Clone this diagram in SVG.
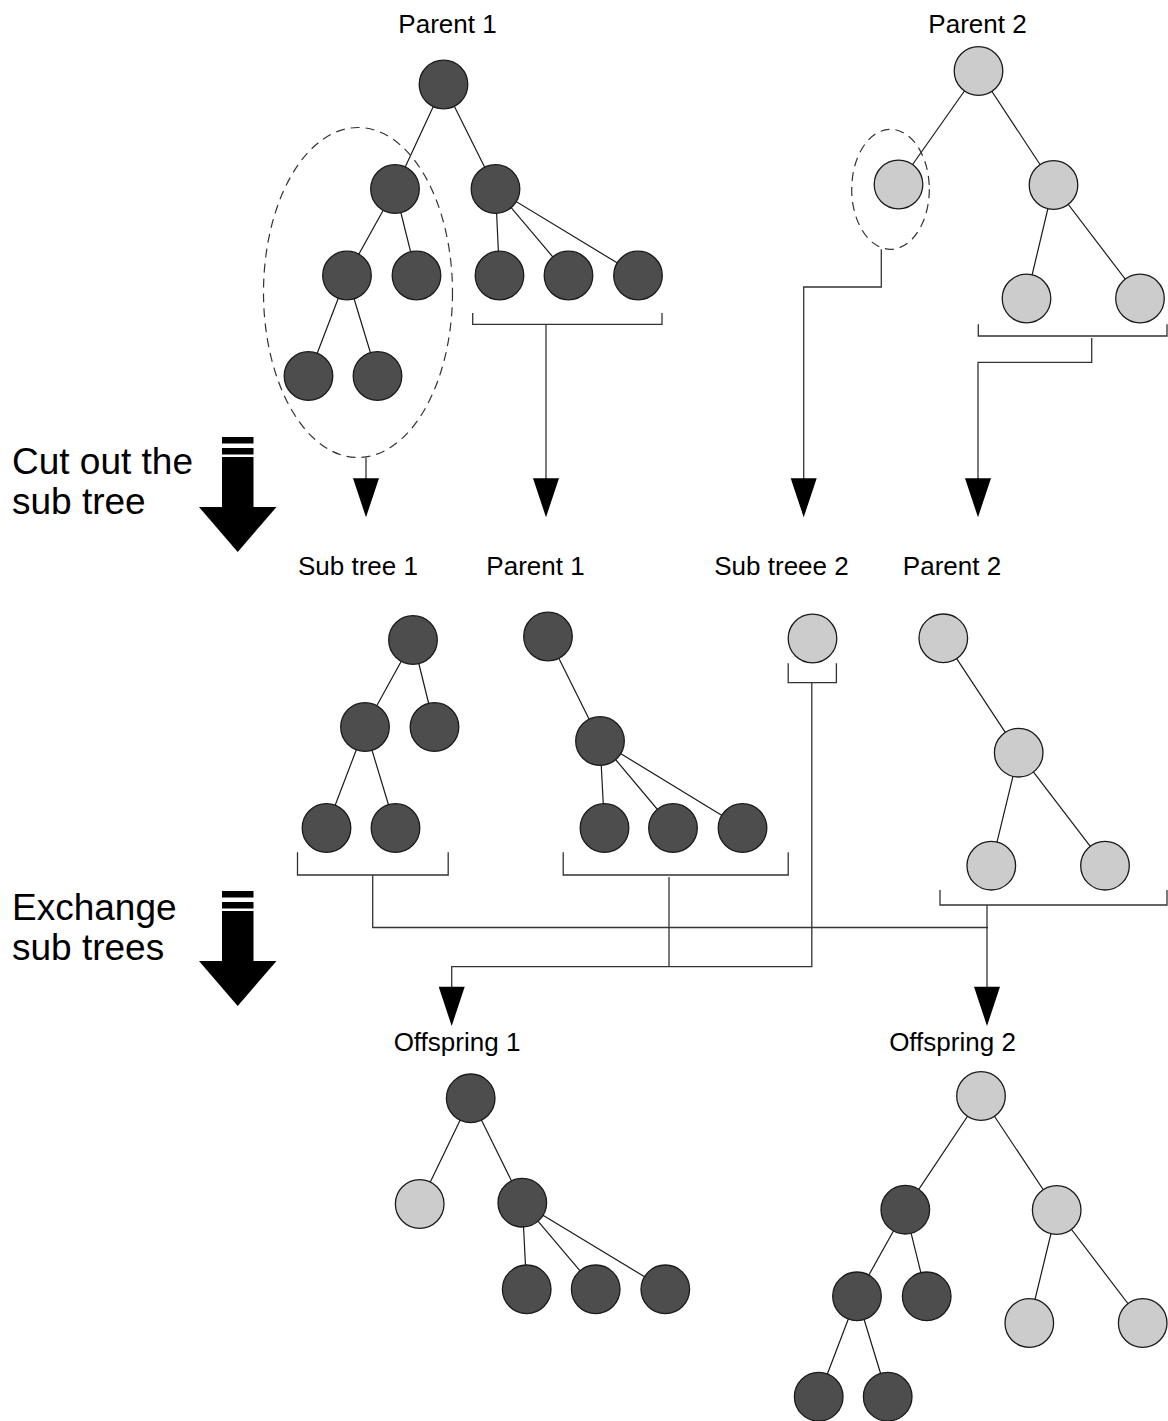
<svg xmlns="http://www.w3.org/2000/svg" width="1168" height="1421" viewBox="0 0 1168 1421">
<style>
.dk{fill:#4d4d4d;stroke:#1a1a1a;stroke-width:1.3}
.lt{fill:#cccccc;stroke:#1a1a1a;stroke-width:1.3}
.e{stroke:#1a1a1a;stroke-width:1.2;fill:none}
.c{stroke:#333;stroke-width:1.3;fill:none}
.ds{stroke:#333;stroke-width:1.2;fill:none;stroke-dasharray:9 6}
.hd{fill:#000}
.lbl{font-family:"Liberation Sans",Arial,sans-serif;font-size:26px;fill:#000;text-anchor:middle}
.big{font-family:"Liberation Sans",Arial,sans-serif;font-size:37px;fill:#000}
</style>
<rect width="1168" height="1421" fill="#fff"/>

<g id="labels">
<text class="lbl" x="447.5" y="33">Parent 1</text>
<text class="lbl" x="977.5" y="33">Parent 2</text>
<text class="lbl" x="358" y="575">Sub tree 1</text>
<text class="lbl" x="535.5" y="575">Parent 1</text>
<text class="lbl" x="781.5" y="575">Sub treee 2</text>
<text class="lbl" x="952" y="575">Parent 2</text>
<text class="lbl" x="457" y="1051">Offspring 1</text>
<text class="lbl" x="952.5" y="1051">Offspring 2</text>
</g>

<g id="step1">
<text class="big" x="12" y="474">Cut out the</text>
<text class="big" x="12" y="514">sub tree</text>
<rect x="222" y="437" width="31.5" height="6.5" fill="#000"/>
<rect x="222" y="448" width="31.5" height="6.5" fill="#000"/>
<rect x="222" y="457" width="31.5" height="51" fill="#000"/>
<polygon points="199,507 276.5,507 237.7,552" fill="#000"/>
</g>
<g id="step2">
<text class="big" x="12" y="920">Exchange</text>
<text class="big" x="12" y="960">sub trees</text>
<rect x="222" y="891" width="31.5" height="6.5" fill="#000"/>
<rect x="222" y="902" width="31.5" height="6.5" fill="#000"/>
<rect x="222" y="911" width="31.5" height="51" fill="#000"/>
<polygon points="199,961 276.5,961 237.7,1006" fill="#000"/>
</g>

<g id="connectors">
<g class="e">
<path d="M443.5,84.5L395,189M443.5,84.5L495.5,189M395,189L347,275.5M395,189L416.5,275.5M347,275.5L308.5,376M347,275.5L377.5,376M495.5,189L499.5,275.5M495.5,189L568.5,275.5M495.5,189L638,275.5"/>
<path d="M978.5,71L898.5,184.5M978.5,71L1053.5,185M1053.5,185L1026.5,298.5M1053.5,185L1140,298.5"/>
<path d="M413,640L365,727M413,640L434.5,727M365,727L326.5,828M365,727L395.5,828"/>
<path d="M548,636.5L600,741M600,741L604.5,828M600,741L673,828M600,741L742.5,828"/>
<path d="M943.3,638.3L1018.7,752.7M1018.7,752.7L991.3,865.7M1018.7,752.7L1105,865.7"/>
<path d="M470.7,1098.3L419.7,1204M470.7,1098.3L522.3,1202.7M522.3,1202.7L526.7,1289.3M522.3,1202.7L595.7,1289.3M522.3,1202.7L665.3,1289.3"/>
<path d="M981,1096L905.3,1209.7M981,1096L1056.7,1210M905.3,1209.7L857,1296.3M905.3,1209.7L926.7,1296.3M857,1296.3L818.7,1396.7M857,1296.3L887.7,1396.7M1056.7,1210L1029.3,1323M1056.7,1210L1142.7,1323"/>
</g>
<ellipse class="ds" cx="358" cy="292.5" rx="94.5" ry="165"/>
<ellipse class="ds" cx="890.5" cy="189.3" rx="38.8" ry="60"/>
<path class="c" d="M472.7,313V324.3H662V313"/>
<path class="c" d="M978.3,324.3V336H1167V324.3"/>
<path class="c" d="M297.5,852.3V875H448.2V852.3"/>
<path class="c" d="M563.2,852.3V875H788.2V852.3"/>
<path class="c" d="M788.2,663.3V682.7H836.4V663.3"/>
<path class="c" d="M940,890V905H1167V890"/>
<path class="c" d="M366,457.5V480"/>
<path class="c" d="M546,324.3V480"/>
<path class="c" d="M881.3,249.3V287H803.7V480"/>
<path class="c" d="M1091.7,338V362.3H978V480"/>
<polygon class="hd" points="353,478.3 379,478.3 366,517.3"/>
<polygon class="hd" points="533,478.3 559,478.3 546,517.3"/>
<polygon class="hd" points="790.7,478.3 816.7,478.3 803.7,517.3"/>
<polygon class="hd" points="965,478.3 991,478.3 978,517.3"/>
<path class="c" d="M372.7,875V927.5H988"/>
<path class="c" d="M669,877V966.7"/>
<path class="c" d="M811.8,682.7V966.7H451.7V988"/>
<path class="c" d="M987,905V988"/>
<polygon class="hd" points="438.7,986.7 464.7,986.7 451.7,1026"/>
<polygon class="hd" points="974,986.7 1000,986.7 987,1026"/>
</g>

<g id="parent1">
<g id="p1-a"><circle class="dk" cx="443.5" cy="84.5" r="24.3"/></g>
<g id="p1-b"><circle class="dk" cx="395" cy="189" r="24.3"/></g>
<g id="p1-c"><circle class="dk" cx="495.5" cy="189" r="24.3"/></g>
<g id="p1-d"><circle class="dk" cx="347" cy="275.5" r="24.3"/></g>
<g id="p1-e"><circle class="dk" cx="416.5" cy="275.5" r="24.3"/></g>
<g id="p1-f"><circle class="dk" cx="308.5" cy="376" r="24.3"/></g>
<g id="p1-g"><circle class="dk" cx="377.5" cy="376" r="24.3"/></g>
<g id="p1-h"><circle class="dk" cx="499.5" cy="275.5" r="24.3"/></g>
<g id="p1-i"><circle class="dk" cx="568.5" cy="275.5" r="24.3"/></g>
<g id="p1-j"><circle class="dk" cx="638" cy="275.5" r="24.3"/></g>
</g>
<g id="parent2">
<g id="p2-a"><circle class="lt" cx="978.5" cy="71" r="24.3"/></g>
<g id="p2-b"><circle class="lt" cx="898.5" cy="184.5" r="24.3"/></g>
<g id="p2-c"><circle class="lt" cx="1053.5" cy="185" r="24.3"/></g>
<g id="p2-d"><circle class="lt" cx="1026.5" cy="298.5" r="24.3"/></g>
<g id="p2-e"><circle class="lt" cx="1140" cy="298.5" r="24.3"/></g>
</g>
<g id="subtree1">
<g id="s1-a"><circle class="dk" cx="413" cy="640" r="24.3"/></g>
<g id="s1-b"><circle class="dk" cx="365" cy="727" r="24.3"/></g>
<g id="s1-c"><circle class="dk" cx="434.5" cy="727" r="24.3"/></g>
<g id="s1-d"><circle class="dk" cx="326.5" cy="828" r="24.3"/></g>
<g id="s1-e"><circle class="dk" cx="395.5" cy="828" r="24.3"/></g>
</g>
<g id="parent1-cut">
<g id="m1-a"><circle class="dk" cx="548" cy="636.5" r="24.3"/></g>
<g id="m1-b"><circle class="dk" cx="600" cy="741" r="24.3"/></g>
<g id="m1-c"><circle class="dk" cx="604.5" cy="828" r="24.3"/></g>
<g id="m1-d"><circle class="dk" cx="673" cy="828" r="24.3"/></g>
<g id="m1-e"><circle class="dk" cx="742.5" cy="828" r="24.3"/></g>
</g>
<g id="subtree2">
<g id="s2-a"><circle class="lt" cx="812.5" cy="638.5" r="24.3"/></g>
</g>
<g id="parent2-cut">
<g id="m2-a"><circle class="lt" cx="943.3" cy="638.3" r="24.3"/></g>
<g id="m2-b"><circle class="lt" cx="1018.7" cy="752.7" r="24.3"/></g>
<g id="m2-c"><circle class="lt" cx="991.3" cy="865.7" r="24.3"/></g>
<g id="m2-d"><circle class="lt" cx="1105" cy="865.7" r="24.3"/></g>
</g>
<g id="offspring1">
<g id="o1-a"><circle class="dk" cx="470.7" cy="1098.3" r="24.3"/></g>
<g id="o1-b"><circle class="lt" cx="419.7" cy="1204" r="24.3"/></g>
<g id="o1-c"><circle class="dk" cx="522.3" cy="1202.7" r="24.3"/></g>
<g id="o1-d"><circle class="dk" cx="526.7" cy="1289.3" r="24.3"/></g>
<g id="o1-e"><circle class="dk" cx="595.7" cy="1289.3" r="24.3"/></g>
<g id="o1-f"><circle class="dk" cx="665.3" cy="1289.3" r="24.3"/></g>
</g>
<g id="offspring2">
<g id="o2-a"><circle class="lt" cx="981" cy="1096" r="24.3"/></g>
<g id="o2-b"><circle class="dk" cx="905.3" cy="1209.7" r="24.3"/></g>
<g id="o2-c"><circle class="lt" cx="1056.7" cy="1210" r="24.3"/></g>
<g id="o2-d"><circle class="dk" cx="857" cy="1296.3" r="24.3"/></g>
<g id="o2-e"><circle class="dk" cx="926.7" cy="1296.3" r="24.3"/></g>
<g id="o2-f"><circle class="lt" cx="1029.3" cy="1323" r="24.3"/></g>
<g id="o2-g"><circle class="lt" cx="1142.7" cy="1323" r="24.3"/></g>
<g id="o2-h"><circle class="dk" cx="818.7" cy="1396.7" r="24.3"/></g>
<g id="o2-i"><circle class="dk" cx="887.7" cy="1396.7" r="24.3"/></g>
</g>
</svg>
